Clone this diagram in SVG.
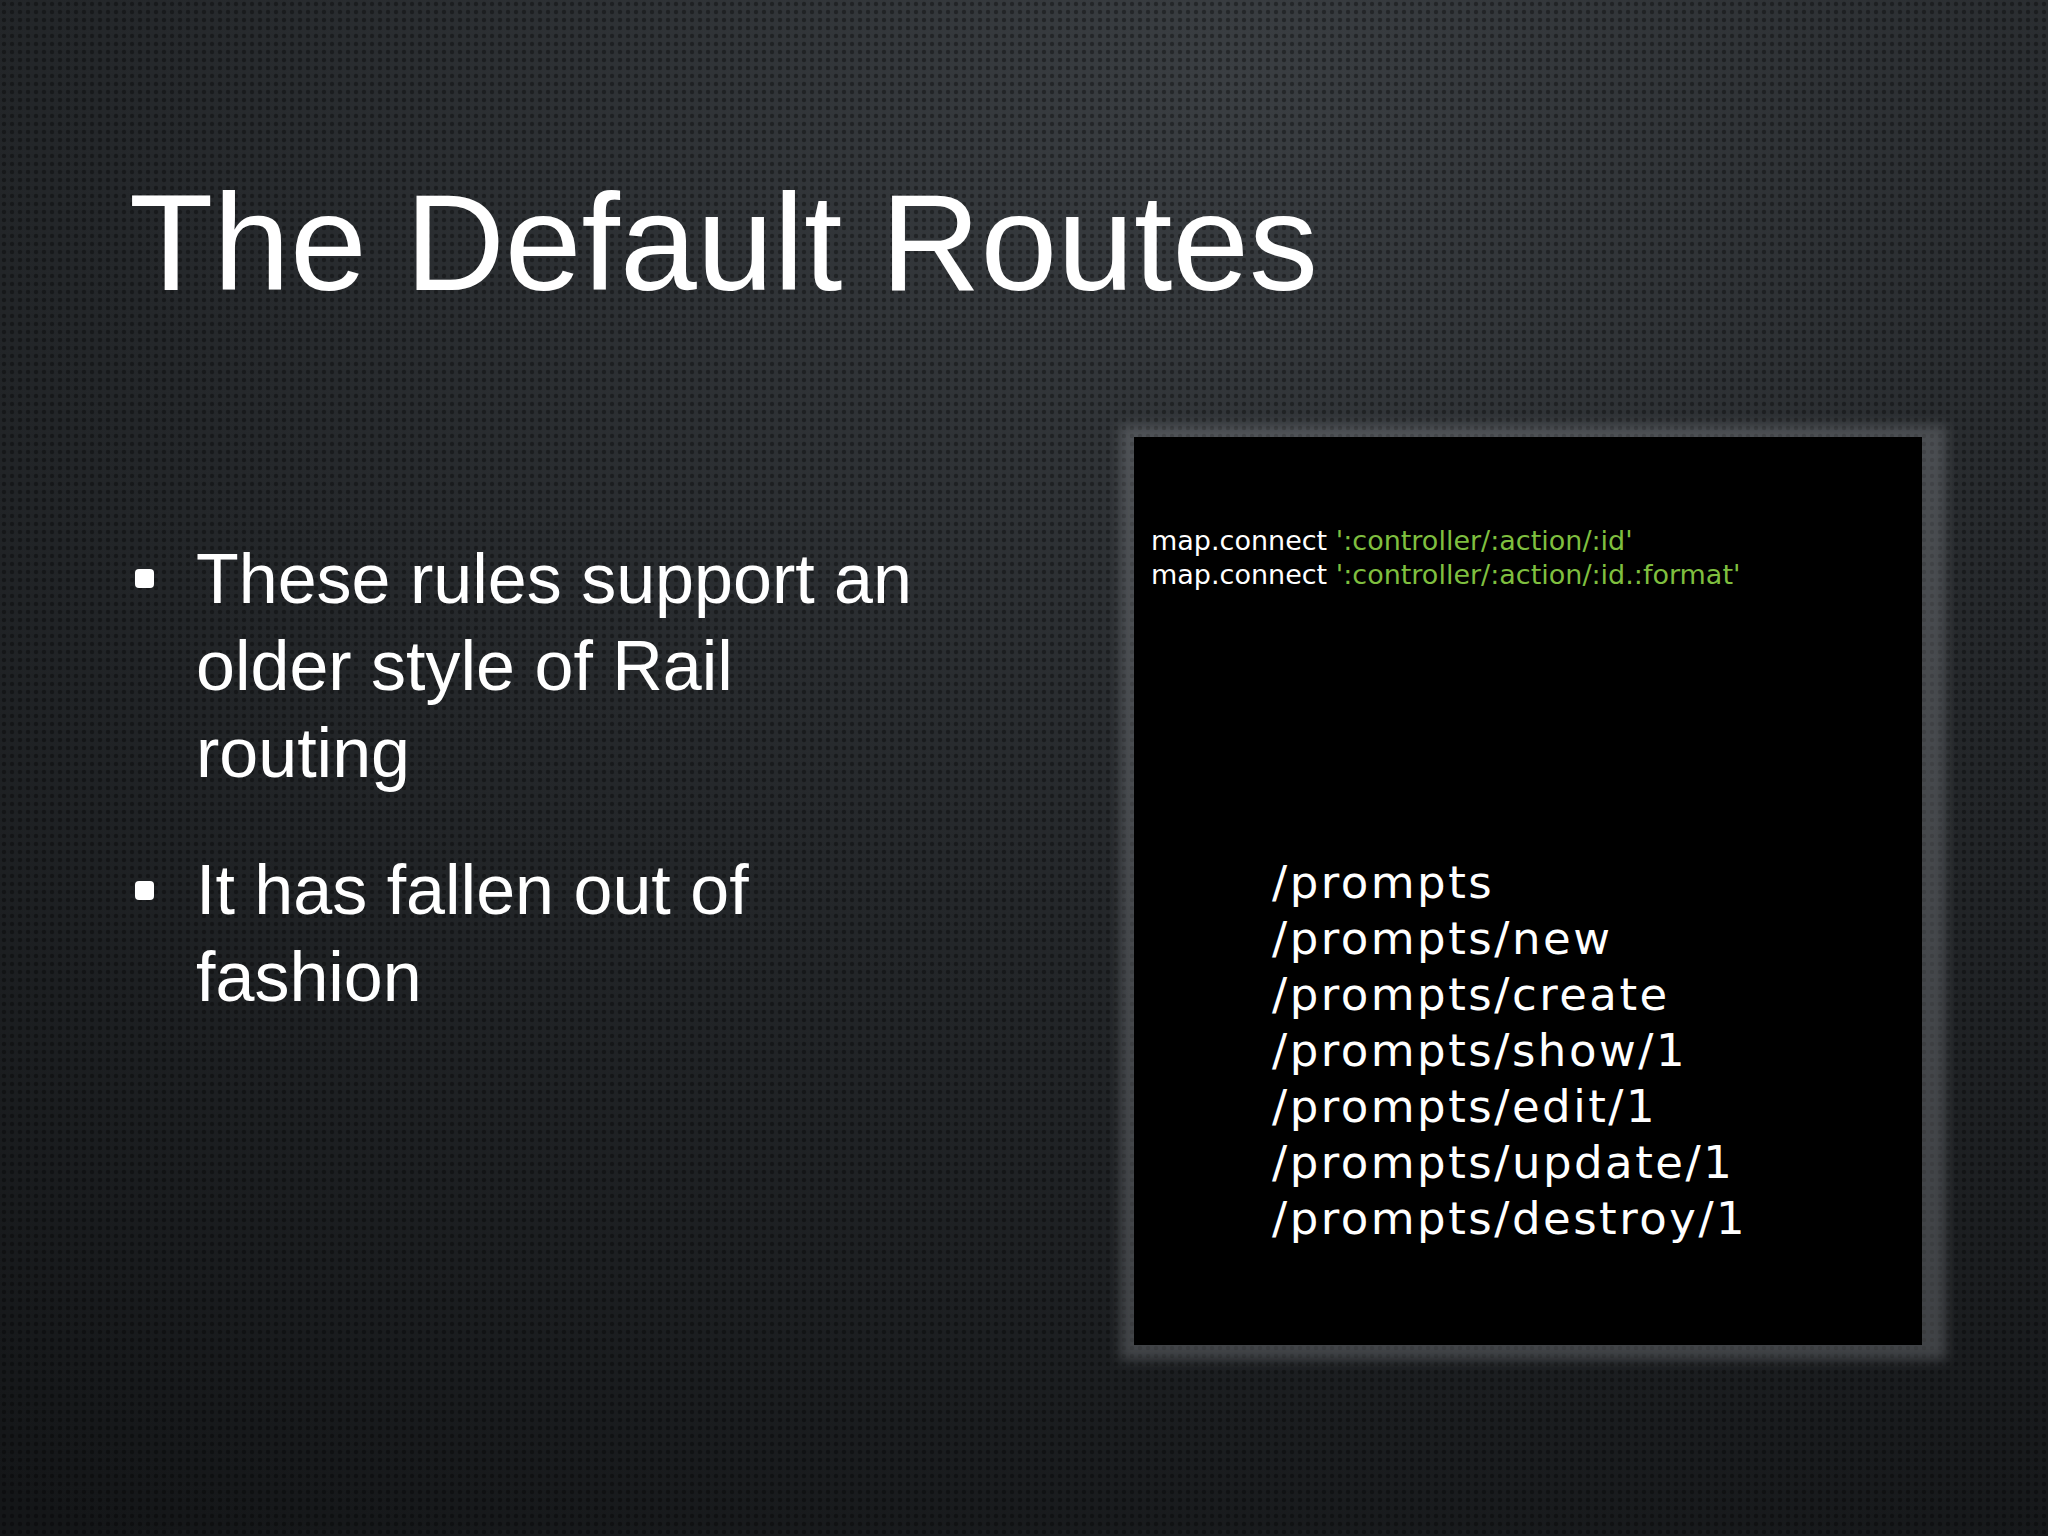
<svg xmlns="http://www.w3.org/2000/svg" width="2048" height="1536" viewBox="0 0 2048 1536">
<defs>
<radialGradient id="bg" cx="0.6" cy="0.05" r="1.1">
<stop offset="0" stop-color="#3a3e42"/>
<stop offset="0.5" stop-color="#24272a"/>
<stop offset="1" stop-color="#141618"/>
</radialGradient>
<pattern id="dots" width="8" height="8" patternUnits="userSpaceOnUse">
<circle cx="4" cy="4" r="2.2" fill="#000" fill-opacity="0.35"/>
</pattern>
<filter id="sh" x="-10%" y="-10%" width="120%" height="120%">
<feGaussianBlur stdDeviation="6"/>
</filter>
<style>
.t{font-family:"Liberation Sans",Arial,sans-serif;fill:#fff}
.c{font-family:"DejaVu Sans","Lucida Grande",sans-serif;font-size:27px;fill:#fff}
.g{fill:#7fbf3f}
.r{font-family:"DejaVu Sans","Lucida Grande",sans-serif;font-size:45px;fill:#fff;letter-spacing:2.5px}
</style>
</defs>
<rect width="2048" height="1536" fill="url(#bg)"/>
<rect width="2048" height="1536" fill="url(#dots)"/>
<text class="t" x="129" y="290" font-size="138">The Default Routes</text>
<g id="bullets">
<rect x="135" y="569" width="19" height="19" rx="4" fill="#fff"/>
<rect x="135" y="881" width="19" height="19" rx="4" fill="#fff"/>
<text class="t" font-size="70"><tspan x="196" y="603">These rules support an</tspan><tspan x="196" y="690">older style of Rail</tspan><tspan x="196" y="777">routing</tspan><tspan x="196" y="914">It has fallen out of</tspan><tspan x="196" y="1001">fashion</tspan></text>
</g>
<g id="panel">
<rect x="1120" y="425" width="826" height="935" fill="#8a8d90" fill-opacity="0.35" filter="url(#sh)"/>
<rect x="1134" y="437" width="788" height="908" fill="#000"/>
<text class="c" x="1151" y="550">map.connect <tspan class="g">':controller/:action/:id'</tspan></text>
<text class="c" x="1151" y="584">map.connect <tspan class="g">':controller/:action/:id.:format'</tspan></text>
<text class="r"><tspan x="1272" y="898">/prompts</tspan><tspan x="1272" y="954">/prompts/new</tspan><tspan x="1272" y="1010">/prompts/create</tspan><tspan x="1272" y="1066">/prompts/show/1</tspan><tspan x="1272" y="1122">/prompts/edit/1</tspan><tspan x="1272" y="1178">/prompts/update/1</tspan><tspan x="1272" y="1234">/prompts/destroy/1</tspan></text>
</g>
</svg>
